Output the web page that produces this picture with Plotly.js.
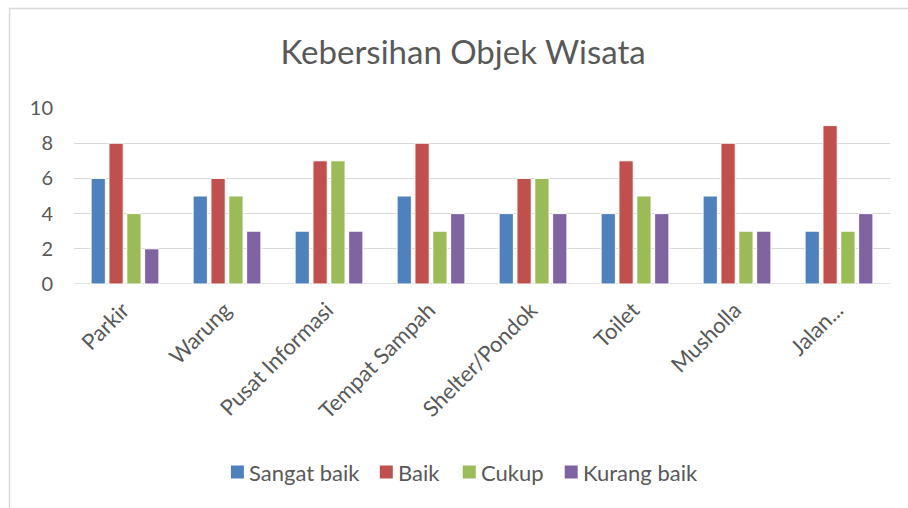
<!DOCTYPE html>
<html>
<head>
<meta charset="utf-8">
<script src="https://cdn.plot.ly/plotly-3.0.1.min.js"></script>
<style>html,body{margin:0;padding:0;background:#fff;}#chart{width:908px;height:508px;}</style>
</head>
<body>
<div id="chart"></div>
<script>
const categories = ["Parkir", "Warung", "Pusat Informasi", "Tempat Sampah", "Shelter/Pondok", "Toilet", "Musholla", "Jalan..."];
const sangatBaik = [6, 5, 3, 5, 4, 4, 5, 3];
const baik = [8, 6, 7, 8, 6, 7, 8, 9];
const cukup = [4, 5, 7, 3, 6, 5, 3, 3];
const kurangBaik = [2, 3, 3, 4, 4, 4, 3, 4];
const seriesNames = ["Sangat baik", "Baik", "Cukup", "Kurang baik"];
const seriesColors = ["#4F81BD", "#C0504D", "#9BBB59", "#8064A2"];
const yTicks = [0, 2, 4, 6, 8, 10];

const allSeries = [sangatBaik, baik, cukup, kurangBaik];
const data = allSeries.map((vals, i) => ({
  type: "bar",
  name: seriesNames[i],
  x: categories,
  y: vals,
  marker: {color: seriesColors[i], line: {color: "#ffffff", width: 1}},
  hoverinfo: "none",
  showlegend: false
}));

// plot area in pixels
const PL = 74, PW = 816.5, PB = 284, PH = 176;
const px2x = p => (p - PL) / PW;
const px2y = p => (PB - p) / PH;

const font = "Lato, 'Open Sans', sans-serif";

// custom legend (Excel-like spacing)
const legendSquareX = [231, 380, 463, 565];
const legendY = 472;
const shapes = [{
  type: "rect", xref: "paper", yref: "paper",
  x0: px2x(9.5), x1: 2,
  y0: -3, y1: px2y(8.5),
  line: {color: "#d9d9d9", width: 1.5},
  fillcolor: "rgba(0,0,0,0)"
}, {
  type: "line", xref: "paper", yref: "y",
  x0: 0, x1: 1, y0: 0, y1: 0,
  line: {color: "#d9d9d9", width: 1.3},
  layer: "below"
}];
const annotations = [];
seriesNames.forEach((n, i) => {
  const sx = legendSquareX[i];
  shapes.push({
    type: "rect", xref: "paper", yref: "paper",
    x0: px2x(sx), x1: px2x(sx + 13),
    y0: px2y(legendY + 6.5), y1: px2y(legendY - 6.5),
    line: {width: 0}, fillcolor: seriesColors[i]
  });
  annotations.push({
    xref: "paper", yref: "paper",
    x: px2x(sx + 16), y: px2y(legendY),
    xanchor: "left", yanchor: "middle",
    text: n, showarrow: false,
    font: {family: font, size: 22, color: "#595959"}
  });
});

const layout = {
  width: 908, height: 508,
  margin: {l: PL, r: 908 - PL - PW, t: PB - PH, b: 508 - PB},
  paper_bgcolor: "#ffffff", plot_bgcolor: "#ffffff",
  font: {family: font, color: "#595959", size: 18},
  title: {text: "Kebersihan Objek Wisata", font: {family: font, size: 33, color: "#595959"}, x: 0.51, xanchor: "center", y: 0.897, yanchor: "middle"},
  barmode: "group",
  bargap: 0.3,
  bargroupgap: 0.2,
  xaxis: {
    type: "category",
    tickangle: -45,
    tickfont: {size: 22, color: "#595959", family: font},
    showgrid: false,
    showline: false,
    ticks: "",
    anchor: "free",
    position: 0,
    ticklabelshift: -2,
    ticklabelstandoff: 8
  },
  yaxis: {
    range: [0, 10],
    tickvals: yTicks,
    ticktext: yTicks.map(String),
    tickfont: {size: 20, color: "#595959", family: font},
    showgrid: true, gridcolor: "#d9d9d9", gridwidth: 1.3,
    zeroline: false,
    showline: false,
    ticks: "",
    ticklabelstandoff: 20
  },
  showlegend: false,
  shapes: shapes,
  annotations: annotations
};

Plotly.newPlot("chart", data, layout, {staticPlot: true, displayModeBar: false});
</script>
</body>
</html>
